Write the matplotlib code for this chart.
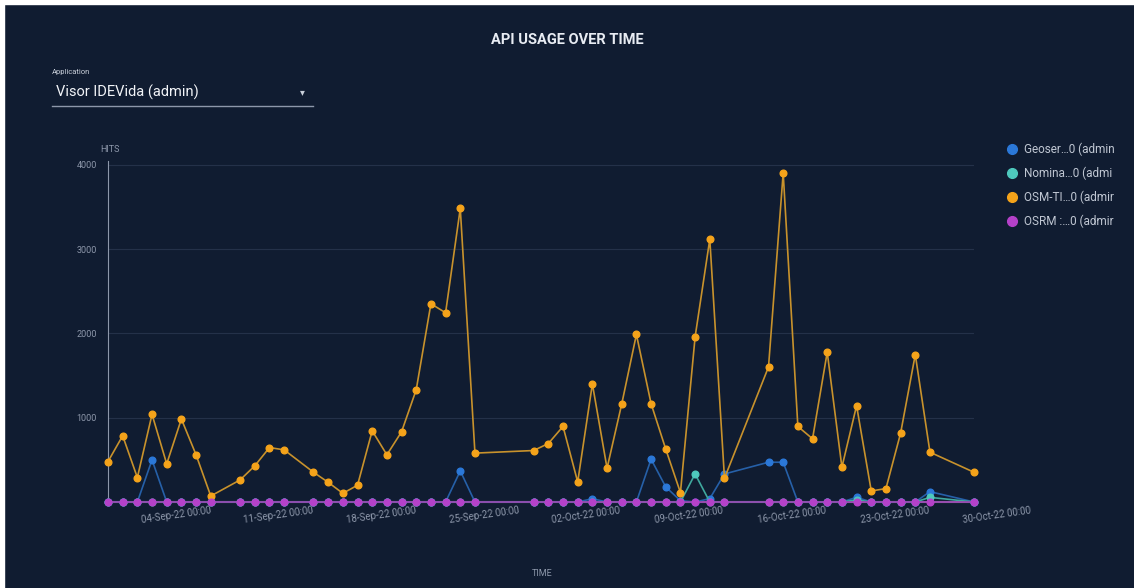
import numpy as np
import pandas as pd
import matplotlib
matplotlib.use("Agg")
import matplotlib.pyplot as plt
import matplotlib.dates as mdates
from matplotlib.lines import Line2D
from matplotlib.patches import Rectangle

plt.rcParams['font.family'] = ['Roboto', 'DejaVu Sans']

# daily dates, 01-Sep-22 .. 30-Oct-22
dates = pd.date_range("2022-09-01", "2022-10-30", freq="D")

# OSM-Tiles hits (None = no data that day)
osm = [480, 786, 290, 1040, 452, 985, 560, 71, None, 262,
       429, 646, 619, None, 353, 234, 103, 199, 845, 560,
       833, 1333, 2353, 2246, 3484, 580, None, None, None, 611,
       694, 897, 238, 1401, 401, 1163, 1988, 1167, 627, 111,
       1960, 3119, 282, None, None, 1603, 3905, 897, 750, 1778,
       413, 1143, 131, 159, 817, 1750, 591, None, None, 353]

# non-zero days for the other services (all other reported days are 0)
geoserver_peaks = {3: 500, 24: 369, 33: 39, 37: 508, 38: 179, 39: 15,
                   41: 40, 42: 333, 45: 472, 46: 472, 51: 56, 56: 123}
nominatim_peaks = {40: 333, 51: 25, 56: 55}

labels = ["Geoser…0 (admin", "Nomina…0 (admi", "OSM-TI…0 (admir", "OSRM :…0 (admir"]
colors = ["#2b78d8", "#4ec9bd", "#f5a31a", "#b541c9"]
line_colors = ["#2660a8", "#3fa89e", "#c8922c", "#9a3fb0"]

tick_dates = pd.date_range("2022-09-04", "2022-10-30", freq="7D")
yticks = [1000, 2000, 3000, 4000]

bg = "#101c31"
grey = "#8d97aa"

osm_s = pd.Series(osm, index=dates, dtype="float")
days = osm_s.dropna().index
geo_s = pd.Series(0.0, index=days)
nom_s = pd.Series(0.0, index=days)
osrm_s = pd.Series(0.0, index=days)
for i, v in geoserver_peaks.items():
    geo_s[dates[i]] = v
for i, v in nominatim_peaks.items():
    nom_s[dates[i]] = v
series = [geo_s, nom_s, osm_s.dropna(), osrm_s]

fig = plt.figure(figsize=(11.34, 5.88), dpi=100, facecolor=bg)
ax = fig.add_axes([108 / 1134, (588 - 502) / 588, 866 / 1134, 341 / 588])
ax.set_facecolor(bg)

order = [2, 0, 1, 3]
for k in order:
    s = series[k]
    ax.plot(s.index, s.values, color=line_colors[k], lw=1.2, zorder=3 + k,
            marker="o", ms=4.8, mfc=colors[k], mec=colors[k], clip_on=False)

ax.set_xlim(dates[0], dates[-1])
ax.set_ylim(0, 4047)
ax.set_yticks(yticks)
ax.set_yticklabels([str(v) for v in yticks], color=grey, fontsize=6.5)
ax.tick_params(axis="y", length=0, pad=8)
ax.tick_params(axis="x", length=0, labelbottom=False)
ax.set_xticks(tick_dates)
ax.grid(axis="y", color="#243149", lw=0.8)
for sp in ["top", "right"]:
    ax.spines[sp].set_visible(False)
ax.spines["left"].set_color(grey)
ax.spines["bottom"].set_color(grey)
ax.spines["bottom"].set_linewidth(1.5)
ax.spines["bottom"].set_zorder(2.5)

for d in tick_dates:
    ax.text(mdates.date2num(d) - 0.8, -160, d.strftime("%d-%b-%y 00:00"),
            color=grey, fontsize=7, rotation=8, rotation_mode="anchor",
            ha="left", va="top")

ax.text(0.002, 1.02, "HITS", transform=ax.transAxes, color=grey,
        fontsize=6.5, ha="center", va="bottom")
fig.text(542 / 1134, 1 - 573 / 588, "TIME", color=grey, fontsize=6.5,
         ha="center", va="center")

fig.text(0.5, 1 - 40 / 588, "API USAGE OVER TIME", color="#e8ecf3",
         fontsize=10.5, fontweight="bold", ha="center", va="center")

# application selector
fig.text(52 / 1134, 1 - 72 / 588, "Application", color="#c9cfda",
         fontsize=5.5, ha="left", va="center")
fig.text(56 / 1134, 1 - 92 / 588, "Visor IDEVida (admin)", color="#f2f4f8",
         fontsize=10.5, ha="left", va="center")
fig.text(302 / 1134, 1 - 92 / 588, "▾", color="#c9cfda", fontsize=7,
         ha="center", va="center")
fig.add_artist(Line2D([52 / 1134, 313 / 1134], [1 - 106 / 588] * 2,
                      color=grey, lw=1.0))

handles = [Line2D([], [], ls="none", marker="o", ms=7, mfc=c, mec=c)
           for c in colors]
fig.legend(handles, labels, loc="upper left",
           bbox_to_anchor=(997 / 1134, 1 - 132 / 588), frameon=False,
           handlelength=0.8, handletextpad=0.6, labelspacing=0.9,
           fontsize=8.5, labelcolor="#c0c7d3")

# white screenshot edges
fig.add_artist(Rectangle((0, 1 - 4 / 588), 1, 4 / 588, transform=fig.transFigure,
                         color="white", zorder=20))
fig.add_artist(Rectangle((0, 0), 4 / 1134, 1, transform=fig.transFigure,
                         color="white", zorder=20))

fig.savefig("out.png", dpi=100, facecolor=bg)
